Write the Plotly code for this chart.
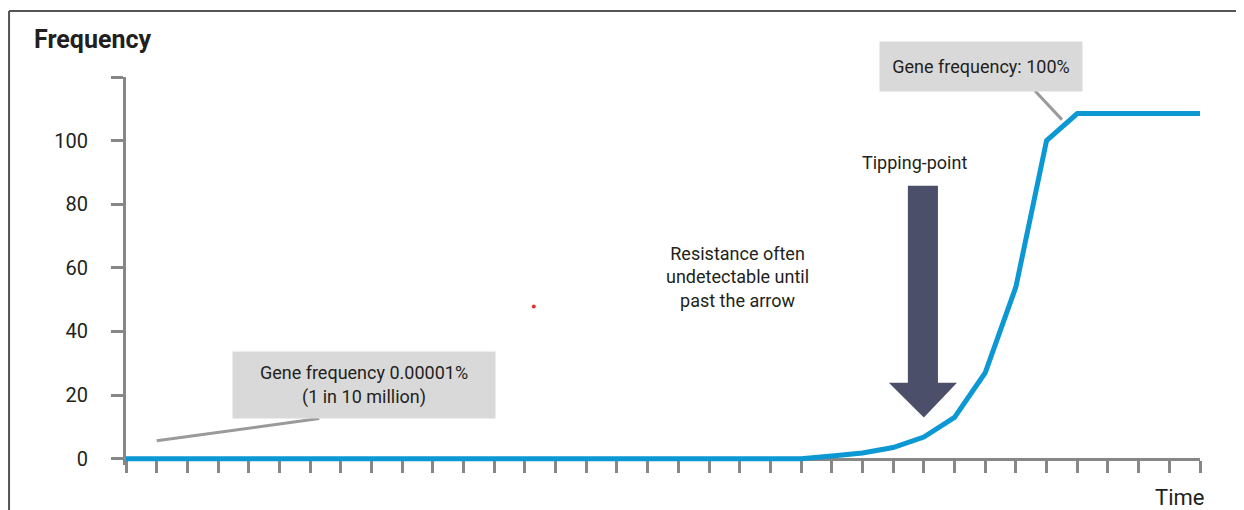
import plotly.graph_objects as go

# ---- data ----
time_steps = list(range(36))
frequency = [0, 0, 0, 0, 0, 0, 0, 0, 0, 0, 0, 0,
             0, 0, 0, 0, 0, 0, 0, 0, 0, 0, 0,
             0.8, 1.8, 3.5, 6.8, 13, 27, 54, 100, 108.5,
             108.5, 108.5, 108.5, 108.5]
y_tick_vals = [0, 20, 40, 60, 80, 100, 120]
y_tick_text = ["0", "20", "40", "60", "80", "100", ""]

FONT = "Roboto, Liberation Sans, sans-serif"
TXT = "#231f20"
AX = "#878787"
BLUE = "#0b98d3"
ARROW = "#4b4f6a"

fig = go.Figure()
fig.add_trace(go.Scatter(x=time_steps, y=frequency, mode="lines",
                         line=dict(color=BLUE, width=5), hoverinfo="skip",
                         showlegend=False))

# stray red dot in the reference
fig.add_trace(go.Scatter(x=[13.29], y=[47.8], mode="markers",
                         marker=dict(color="#e8322e", size=4), hoverinfo="skip",
                         showlegend=False))

ymin, ymax = -2, 120
fig.update_layout(
    width=1244, height=510,
    margin=dict(l=118, r=52, t=69, b=53),
    paper_bgcolor="white", plot_bgcolor="white",
    font=dict(family=FONT, color=TXT, size=20),
    xaxis=dict(range=[0, 35], anchor="free", position=(0 - ymin) / (ymax - ymin),
               showline=True, linecolor=AX, linewidth=3,
               ticks="outside", tickmode="linear", tick0=0, dtick=1,
               ticklen=12, tickwidth=3, tickcolor=AX,
               showticklabels=False, showgrid=False, zeroline=False,
               layer="below traces"),
    yaxis=dict(range=[ymin, ymax], showline=True, linecolor=AX, linewidth=3,
               ticks="outside", tickvals=y_tick_vals, ticktext=y_tick_text,
               ticklen=12, tickwidth=3, tickcolor=AX, ticklabelstandoff=19,
               tickfont=dict(family=FONT, size=20, color=TXT),
               showgrid=False, zeroline=False, layer="below traces"),
)

annotations = [
    dict(text="<b>Frequency</b>", xref="paper", yref="paper", x=-0.0875, y=1.097,
         xanchor="left", yanchor="middle", showarrow=False,
         font=dict(family=FONT, size=25, color=TXT)),
    dict(text="Time", xref="paper", yref="paper", x=1.0055, y=-0.085,
         xanchor="right", yanchor="middle", showarrow=False,
         font=dict(family=FONT, size=22, color=TXT)),
    dict(text="Gene frequency 0.00001%<br>(1 in 10 million)", xref="x", yref="y",
         x=7.76, y=23.1, xanchor="center", yanchor="middle", showarrow=False,
         width=262, height=66, bgcolor="#d9d9d9", borderpad=0,
         font=dict(family=FONT, size=18, color=TXT)),
    dict(text="Gene frequency: 100%", xref="x", yref="paper",
         x=27.86, y=1.027, xanchor="center", yanchor="middle", showarrow=False,
         width=202, height=49, bgcolor="#d9d9d9", borderpad=0,
         font=dict(family=FONT, size=18, color=TXT)),
    dict(text="Tipping-point", xref="x", yref="y", x=25.71, y=93.0,
         xanchor="center", yanchor="middle", showarrow=False,
         font=dict(family=FONT, size=18, color=TXT)),
    dict(text="Resistance often<br>undetectable until<br>past the arrow", xref="x", yref="y",
         x=19.94, y=57.1, xanchor="center", yanchor="middle", showarrow=False,
         font=dict(family=FONT, size=18, color=TXT)),
]
fig.update_layout(annotations=annotations)

shapes = [
    # callout connectors
    dict(type="line", xref="x", yref="y", x0=1, y0=5.6, x1=6.3, y1=12.6,
         line=dict(color="#9a9a9a", width=3)),
    dict(type="line", xref="x", yref="y", x0=29.62, y0=115.7, x1=30.5, y1=106.6,
         line=dict(color="#9a9a9a", width=3)),
    # tipping-point arrow
    dict(type="path", xref="x", yref="y",
         path="M 25.48,85.8 L 26.46,85.8 L 26.46,23.9 L 27.08,23.9 L 26.0,12.9 "
              "L 24.86,23.9 L 25.48,23.9 Z",
         fillcolor=ARROW, line=dict(width=0)),
    # outer frame (left + top)
    dict(type="line", xref="paper", yref="paper", x0=-0.1089, y0=-0.2, x1=-0.1089, y1=1.170,
         line=dict(color="#555555", width=2)),
    dict(type="line", xref="paper", yref="paper", x0=-0.1089, y0=1.170, x1=1.06, y1=1.170,
         line=dict(color="#555555", width=2)),
]
fig.update_layout(shapes=shapes)

fig.write_html("out.html")
